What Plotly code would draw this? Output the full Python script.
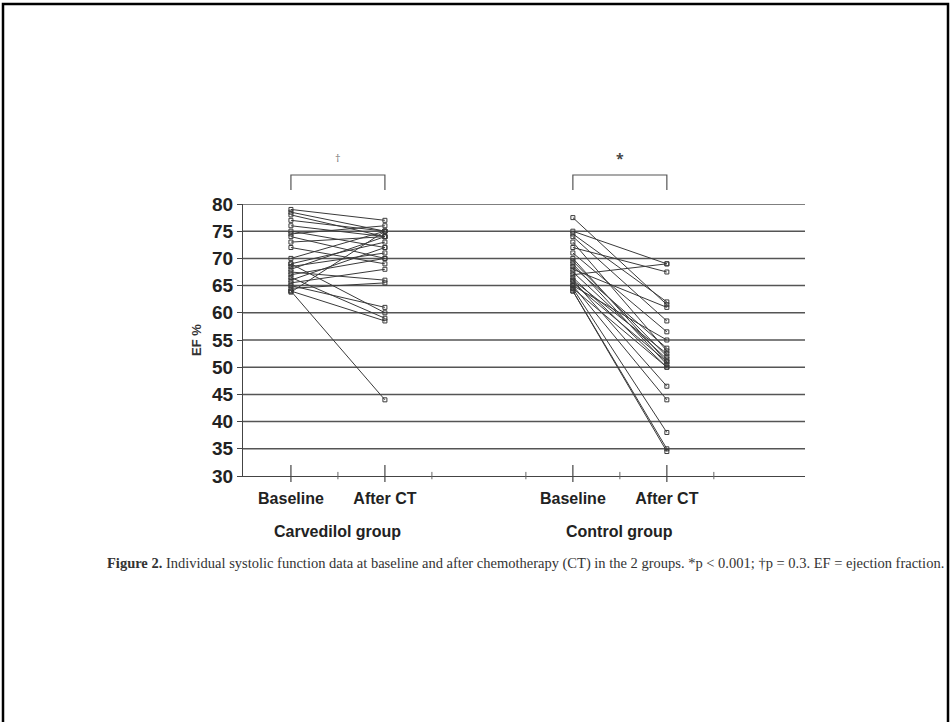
import plotly.graph_objects as go

# ---- data (EF %) ----
y_ticks = [30, 35, 40, 45, 50, 55, 60, 65, 70, 75, 80]
x_labels = ["Baseline", "After CT", "Baseline", "After CT"]
groups = ["Carvedilol group", "Control group"]

carv_baseline = [79, 78.5, 78, 77, 76, 75, 74.5, 74, 73, 72, 70, 69, 69, 68.5, 68,
                 67.5, 67, 66.5, 66, 65.5, 65, 64.5, 64, 64, 63.8]
carv_after = [77, 75, 74, 75, 74, 72, 76, 70, 74, 69, 75, 73, 60, 71, 74,
              66, 70, 59, 72, 68, 61, 65.5, 58.5, 44, 75]

ctrl_baseline = [77.5, 75, 74.5, 74, 73, 72, 71, 70, 69.5, 69, 68.5, 68, 67.5, 67,
                 66.5, 66, 66, 65.5, 65, 65, 64.5, 64.5, 64, 64]
ctrl_after = [61.5, 69, 62, 58.5, 53, 67.5, 56.5, 51, 52, 50.5, 53.5, 61, 51.5, 69,
              50, 52.5, 46.5, 51, 55, 44, 50, 38, 35, 34.5]

# category positions on a numeric axis
pos = [1, 2, 4, 5]

W, H = 951, 722
L, R, T, B = 243, 146, 204, 246
PW, PH = W - L - R, H - T - B


def py(pix):
    """convert a page pixel row to paper y"""
    return (T + PH - pix) / PH


def px(pix):
    return (pix - L) / PW


fig = go.Figure()

line_col = "#3a3a3a"
for pre, post in zip(carv_baseline, carv_after):
    fig.add_trace(go.Scatter(x=[pos[0], pos[1]], y=[pre, post], mode="lines+markers",
                             line=dict(color=line_col, width=1),
                             marker=dict(symbol="square-open", size=4, color=line_col, line=dict(width=1)),
                             showlegend=False, hoverinfo="skip"))
for pre, post in zip(ctrl_baseline, ctrl_after):
    fig.add_trace(go.Scatter(x=[pos[2], pos[3]], y=[pre, post], mode="lines+markers",
                             line=dict(color=line_col, width=1),
                             marker=dict(symbol="square-open", size=4, color=line_col, line=dict(width=1)),
                             showlegend=False, hoverinfo="skip"))

shapes = []
# horizontal reference lines
for v in y_ticks[1:]:
    shapes.append(dict(type="line", xref="paper", yref="y", x0=0, x1=1, y0=v, y1=v,
                       line=dict(color="#555555", width=1.5), layer="below"))
# x-axis tick marks (crossing the axis)
for xv in pos:
    shapes.append(dict(type="line", xref="x", yref="paper", x0=xv, x1=xv, y0=-0.022, y1=0.04,
                       line=dict(color="#444444", width=1.2)))
for xv in [1.5, 2.5, 3.5, 4.5, 5.5]:
    shapes.append(dict(type="line", xref="x", yref="paper", x0=xv, x1=xv, y0=-0.012, y1=0.015,
                       line=dict(color="#666666", width=1)))
# significance brackets
for (a, b) in [(pos[0], pos[1]), (pos[2], pos[3])]:
    shapes.append(dict(type="path", xref="x", yref="paper",
                       path=f"M {a} {py(190)} L {a} {py(175)} L {b} {py(175)} L {b} {py(190)}",
                       line=dict(color="#555555", width=1.2)))
# outer frame
shapes.append(dict(type="rect", xref="paper", yref="paper",
                   x0=px(3), x1=px(948), y0=py(H + 5), y1=py(4),
                   line=dict(color="black", width=2.5)))

annotations = [
    dict(text="†", x=(pos[0] + pos[1]) / 2, y=py(157), xref="x", yref="paper", showarrow=False,
         yanchor="middle", font=dict(size=11, color="#777777")),
    dict(text="*", x=(pos[2] + pos[3]) / 2, y=py(159), xref="x", yref="paper", showarrow=False,
         yanchor="middle", font=dict(size=14, color="#444444", weight="bold")),
    dict(text="EF %", x=px(196), y=0.5, xref="paper", yref="paper", showarrow=False, textangle=-90,
         xanchor="center", yanchor="middle",
         font=dict(size=13, color="#333333", family="Liberation Sans", weight="bold")),
    dict(text=groups[0], x=(pos[0] + pos[1]) / 2, y=py(531), xref="x", yref="paper",
         showarrow=False, yanchor="middle",
         font=dict(size=16, color="#222222", family="Liberation Sans", weight="bold")),
    dict(text=groups[1], x=(pos[2] + pos[3]) / 2, y=py(531), xref="x", yref="paper",
         showarrow=False, yanchor="middle",
         font=dict(size=16, color="#222222", family="Liberation Sans", weight="bold")),
    dict(text="<b>Figure 2.</b> Individual systolic function data at baseline and after chemotherapy (CT) in the 2 groups. *p &lt; 0.001; †p = 0.3. EF = ejection fraction.",
         x=px(105), y=py(563), xref="paper", yref="paper", showarrow=False,
         xanchor="left", yanchor="middle",
         font=dict(size=14.5, color="#333333", family="Liberation Serif")),
]

fig.update_layout(
    width=W, height=H,
    margin=dict(l=L, r=R, t=T, b=B),
    paper_bgcolor="white", plot_bgcolor="white",
    shapes=shapes, annotations=annotations,
    xaxis=dict(range=[0.49, 6.47], tickvals=pos, ticktext=x_labels, ticks="",
               ticklabelstandoff=8,
               showgrid=False, zeroline=False, showline=True, linecolor="#444444", linewidth=1.2,
               tickfont=dict(size=16, color="#222222", family="Liberation Sans", weight="bold")),
    yaxis=dict(range=[30, 80], tickvals=y_ticks, ticks="outside", ticklen=5, tickcolor="#444444",
               showgrid=False, zeroline=False, showline=True, linecolor="#444444", linewidth=1.2,
               tickfont=dict(size=19, color="#222222", family="Liberation Sans", weight="bold")),
)

fig.write_html("out.html", config={"displayModeBar": False},
               post_script="document.body.style.margin='0';")
